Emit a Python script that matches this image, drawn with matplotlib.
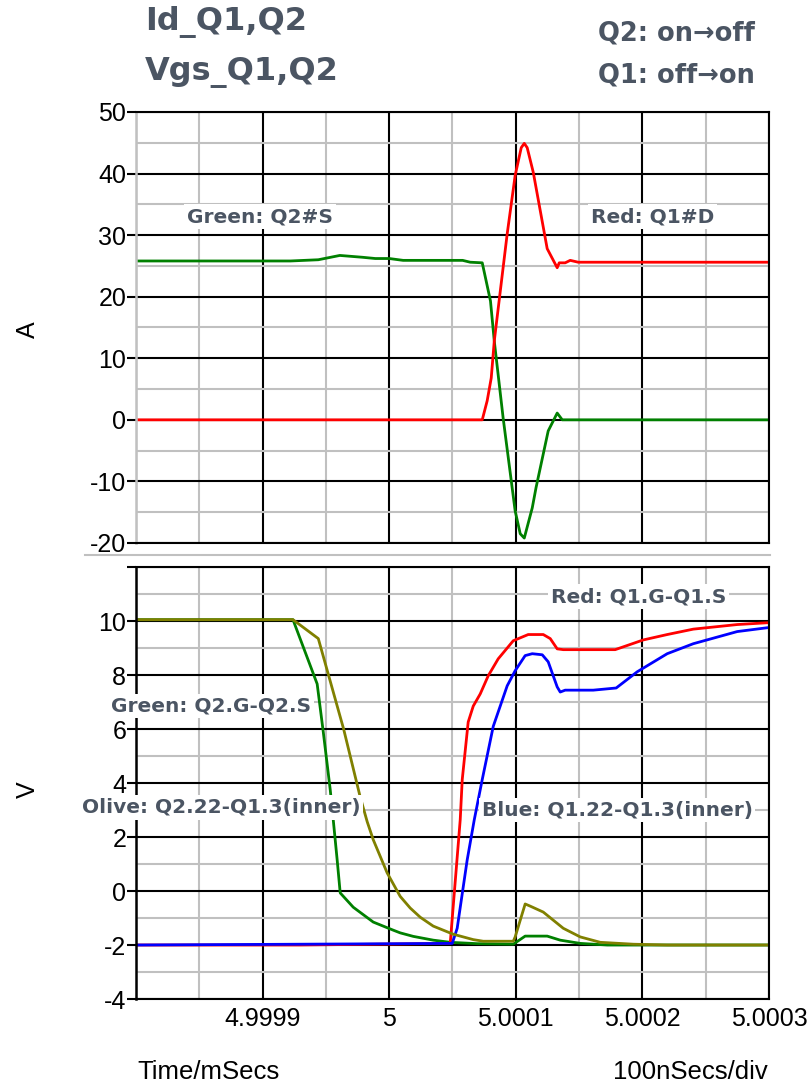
import numpy as np
import matplotlib
matplotlib.use("Agg")
import matplotlib.pyplot as plt
from matplotlib.ticker import FixedLocator
from matplotlib.lines import Line2D

plt.rcParams['font.family'] = ['Liberation Sans', 'DejaVu Sans']
plt.rcParams['axes.unicode_minus'] = False

# time axis is in ms; points are stored as ns offsets from 5 ms
T0 = 5.0

# top panel: drain / source currents (A)
t_q2s_ns = [-200, -78, -56, -39, -21, -11, 0, 11, 58, 64, 73.5, 80, 83, 90,
            99.5, 103.5, 106.7, 113, 116, 125.6, 132.7, 136.7, 300]
i_q2s = [25.8, 25.8, 26.0, 26.7, 26.4, 26.2, 26.2, 25.9, 25.9, 25.6, 25.5, 19.3,
         12.8, 0.3, -14.8, -18.5, -19.2, -14.3, -11.0, -1.8, 1.1, 0.0, 0.0]

t_q1d_ns = [-200, 73.5, 77.4, 80.6, 83, 93.2, 99.5, 104.3, 106.7, 109, 113.8,
            116.9, 124.8, 132.7, 134.3, 139, 143, 149.3, 300]
i_q1d = [0, 0, 3.1, 6.8, 12.8, 30.2, 39.7, 44.2, 44.9, 44.2, 40.2, 36.7, 27.8,
         24.7, 25.5, 25.5, 25.9, 25.6, 25.6]

# bottom panel: gate voltages (V)
t_q2gs_ns = [-200, -76, -56.9, -52.1, -46.6, -44.2, -41.1, -38.7, -28.4, -12.6,
             3.2, 8.7, 19, 34.8, 48.2, 69.5, 98, 107.4, 124.8, 135.1, 150.9, 172.2, 300]
v_q2gs = [10.05, 10.05, 7.67, 5.9, 3.76, 2.64, 1.15, -0.07, -0.6, -1.15, -1.45,
          -1.55, -1.68, -1.82, -1.9, -1.95, -1.97, -1.67, -1.67, -1.82, -1.94, -2.0, -2.0]

t_q1gs_ns = [-200, -70, 48.2, 56.1, 57.7, 62.4, 66.4, 71.9, 78.2, 86.1, 98, 109.8,
             121.7, 127.2, 132.7, 137.5, 178.5, 200.7, 219.6, 240.2, 274.9, 300]
v_q1gs = [-2.0, -2.0, -1.94, 2.64, 4.13, 6.26, 6.85, 7.3, 7.97, 8.6, 9.27, 9.5,
          9.5, 9.35, 8.97, 8.94, 8.94, 9.3, 9.5, 9.7, 9.87, 9.94]

t_q1in_ns = [-200, -70, 49.8, 53.7, 61.6, 67.2, 73.5, 82.2, 93.2, 99.5, 107.4, 113,
             120.9, 125.6, 132.7, 135.1, 139, 161.2, 179.3, 195.9, 219.6, 240.2, 274.9, 300]
v_q1in = [-2.0, -1.97, -1.94, -1.38, 1.15, 2.64, 4.13, 6.1, 7.6, 8.16, 8.72, 8.79,
          8.75, 8.49, 7.56, 7.37, 7.44, 7.44, 7.52, 8.12, 8.79, 9.16, 9.61, 9.76]

t_q2in_ns = [-200, -76, -56, -36, -23, -17.4, -12.6, -1.6, 8.7, 16.6, 24.5, 34.8,
             50.6, 66.4, 74.3, 98, 99.5, 107.4, 111.4, 121.7, 129.6, 137.5, 150.9,
             166.7, 192.8, 219.6, 300]
v_q2in = [10.05, 10.05, 9.35, 6.0, 3.5, 2.57, 1.9, 0.67, -0.2, -0.63, -0.97, -1.3,
          -1.6, -1.8, -1.86, -1.86, -1.7, -0.48, -0.56, -0.78, -1.08, -1.38, -1.7,
          -1.9, -1.97, -2.0, -2.0]

x_major = [4.9998, 4.9999, 5.0, 5.0001, 5.0002, 5.0003]
x_minor = [4.99985, 4.99995, 5.00005, 5.00015, 5.00025]
x_labels = ['', '4.9999', '5', '5.0001', '5.0002', '5.0003']

top_major = [-20, -10, 0, 10, 20, 30, 40, 50]
top_minor = [-15, -5, 5, 15, 25, 35, 45]
bot_major = [-4, -2, 0, 2, 4, 6, 8, 10, 12]
bot_minor = [-3, -1, 1, 3, 5, 7, 9, 11]
bot_labels = ['-4', '-2', '0', '2', '4', '6', '8', '10', '']

def ms(ns):
    return T0 + np.array(ns) * 1e-6

label_col = '#4b5563'
GRAY = '#c0c0c0'
LW = 2.0
FS = 18

fig = plt.figure(figsize=(8.11, 10.84), dpi=100)
ax1 = fig.add_axes([0.1677, 0.4991, 0.7805, 0.3976])
ax2 = fig.add_axes([0.1677, 0.0784, 0.7805, 0.3985])

def style(ax, ymaj, ymin, ylim, left_color):
    ax.set_xlim(4.9998, 5.0003)
    ax.set_ylim(*ylim)
    ax.xaxis.set_major_locator(FixedLocator(x_major))
    ax.xaxis.set_minor_locator(FixedLocator(x_minor))
    ax.yaxis.set_major_locator(FixedLocator(ymaj))
    ax.yaxis.set_minor_locator(FixedLocator(ymin))
    ax.set_xticklabels(x_labels)
    ax.grid(which='major', color='black', lw=1.5)
    ax.grid(which='minor', color=GRAY, lw=1.5)
    ax.tick_params(axis='x', which='both', length=0, labelsize=FS, pad=6)
    ax.tick_params(axis='y', which='major', length=6.5, width=1.5,
                   direction='out', pad=0.5, labelsize=FS)
    ax.tick_params(axis='y', which='minor', length=0)
    for s in ['top', 'right', 'bottom']:
        ax.spines[s].set_color('black')
        ax.spines[s].set_linewidth(1.5)
    ax.spines['left'].set_color(left_color)
    ax.spines['left'].set_linewidth(1.8)

style(ax1, top_major, top_minor, (-20, 50), GRAY)
ax1.tick_params(labelbottom=False)
style(ax2, bot_major, bot_minor, (-4, 12), 'black')
ax2.set_yticklabels(bot_labels)

ax1.plot(ms(t_q2s_ns), i_q2s, color='#008000', lw=LW)
ax1.plot(ms(t_q1d_ns), i_q1d, color='#ff0000', lw=LW)

ax2.plot(ms(t_q2gs_ns), v_q2gs, color='#008000', lw=LW)
ax2.plot(ms(t_q1gs_ns), v_q1gs, color='#ff0000', lw=LW)
ax2.plot(ms(t_q1in_ns), v_q1in, color='#0000ff', lw=LW)
ax2.plot(ms(t_q2in_ns), v_q2in, color='#808000', lw=LW)

box = dict(facecolor='white', edgecolor='none', pad=2)
def tag(ax, ns, y, s):
    ax.text(T0 + ns * 1e-6, y, s, ha='center', va='center', fontsize=14.5,
            fontweight='bold', color=label_col, family='DejaVu Sans',
            bbox=box, zorder=5, clip_on=False)

tag(ax1, -102, 33, 'Green: Q2#S')
tag(ax1, 208, 33, 'Red: Q1#D')
tag(ax2, 197, 10.9, 'Red: Q1.G-Q1.S')
tag(ax2, -141, 6.85, 'Green: Q2.G-Q2.S')
tag(ax2, -133, 3.1, 'Olive: Q2.22-Q1.3(inner)')
tag(ax2, 180, 3.0, 'Blue: Q1.22-Q1.3(inner)')

W, H = 811, 1084
fig.text(145 / W, 1 - 22 / H, 'Id_Q1,Q2', ha='left', va='center', fontsize=23,
         fontweight='bold', color=label_col, family='DejaVu Sans')
fig.text(145 / W, 1 - 72 / H, 'Vgs_Q1,Q2', ha='left', va='center', fontsize=23,
         fontweight='bold', color=label_col, family='DejaVu Sans')
fig.text(755 / W, 1 - 33 / H, 'Q2: on→off', ha='right', va='center', fontsize=18.5,
         fontweight='bold', color=label_col, family='DejaVu Sans')
fig.text(755 / W, 1 - 75 / H, 'Q1: off→on', ha='right', va='center', fontsize=18.5,
         fontweight='bold', color=label_col, family='DejaVu Sans')

fig.text(28 / W, 1 - 330 / H, 'A', rotation=90, ha='center', va='center', fontsize=FS)
fig.text(28 / W, 1 - 790 / H, 'V', rotation=90, ha='center', va='center', fontsize=FS)
fig.text(137 / W, 1 - 1072 / H, 'Time/mSecs', ha='left', va='center', fontsize=18.5)
fig.text(768 / W, 1 - 1072 / H, '100nSecs/div', ha='right', va='center', fontsize=18.5)

fig.add_artist(Line2D([85 / W, 770 / W], [1 - 555 / H] * 2, color=GRAY, lw=1.5))

fig.savefig('out.png', dpi=100)
